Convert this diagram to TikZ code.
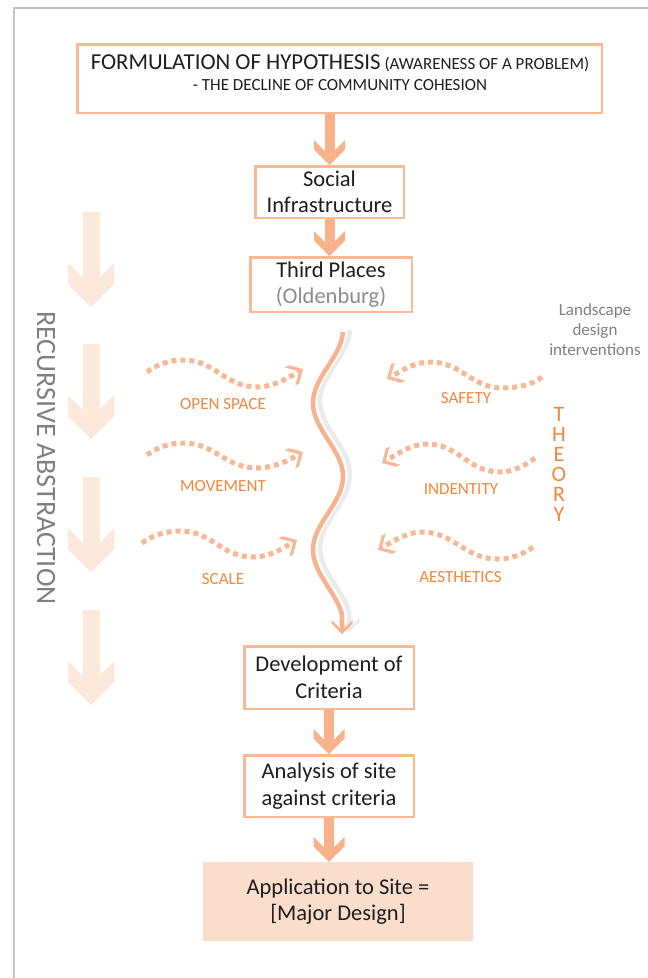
\documentclass[tikz,border=0pt]{standalone}
\usepackage{fontspec}
\setmainfont{Carlito}
\usetikzlibrary{arrows.meta}
\pgfdeclarearrow{
  name = Chevron,
  parameters = {\the\pgfarrowlength,\the\pgfarrowwidth},
  setup code = {
    \pgfarrowssettipend{0pt}
    \pgfarrowssetbackend{-\pgfarrowlength}
    \pgfarrowssetlineend{-.3\pgfarrowlength}
    \pgfarrowssavethe\pgfarrowlength
    \pgfarrowssavethe\pgfarrowwidth
  },
  drawing code = {
    \pgfpathmoveto{\pgfpoint{0pt}{0pt}}
    \pgfpathlineto{\pgfpoint{-.5\pgfarrowwidth}{.5\pgfarrowwidth}}
    \pgfpathlineto{\pgfpoint{-\pgfarrowlength}{.5\pgfarrowwidth}}
    \pgfpathlineto{\pgfpoint{-\pgfarrowlength+.5\pgfarrowwidth}{0pt}}
    \pgfpathlineto{\pgfpoint{-\pgfarrowlength}{-.5\pgfarrowwidth}}
    \pgfpathlineto{\pgfpoint{-.5\pgfarrowwidth}{-.5\pgfarrowwidth}}
    \pgfpathclose
    \pgfusepathqfill
  },
  defaults = {length=25pt, width=31pt}
}
\definecolor{boxc}{HTML}{F8B994}
\definecolor{arrc}{HTML}{F7B28A}
\definecolor{dotc}{HTML}{F9B794}
\definecolor{wavec}{HTML}{F9B38C}
\definecolor{shadc}{HTML}{EBEBEB}
\definecolor{faintc}{HTML}{FDE8DC}
\definecolor{appc}{HTML}{FBDDCB}
\definecolor{txt}{HTML}{1E1E1E}
\definecolor{oldc}{HTML}{8C8C8C}
\definecolor{grayt}{HTML}{7F7F7F}
\definecolor{orng}{HTML}{F4873B}
\definecolor{bordc}{HTML}{C4C4C4}
\tikzset{
  boxtext/.style={font=\fontsize{22.5}{26.5}\selectfont, text=txt, align=center},
  flowbox/.style={draw=boxc, line width=2.5pt, inner sep=0pt, boxtext},
  lbl/.style={font=\fontsize{17}{20}\selectfont, text=orng, anchor=base, inner sep=0pt},
  blockarrow/.style={draw=arrc, line width=10pt, -{Chevron[length=25pt,width=31pt]}},
  faintarrow/.style={draw=faintc, line width=17pt, -{Chevron[length=44pt,width=46pt]}},
  dotarrow/.style={draw=dotc, line width=5pt, dash pattern=on 5pt off 4pt, -{Chevron[length=15pt,width=21pt]}},
}
\begin{document}
\begin{tikzpicture}[x=1pt,y=-1pt]
\useasboundingbox (0,0) rectangle (648,978);
\fill[white] (0,0) rectangle (648,978);
\draw[bordc, line width=1.5pt] (14,978) -- (14,8) -- (648,8);

% faint recursive arrows
\foreach \t in {212,344,477,610} \draw[faintarrow] (91,\t) -- (91,\t+95);
\node[rotate=-90, font=\fontsize{28}{30}\selectfont, text=grayt, inner sep=0pt] (recursive) at (46,458) {RECURSIVE ABSTRACTION};

% boxes
\node[flowbox, minimum width=524.5pt, minimum height=68.5pt] (topbox) at (339.5,78.5) {};
\node[font=\fontsize{17}{21}\selectfont, text=txt, align=center, inner sep=0pt] (toptext) at (340,73)
  {{\fontsize{22.8}{21}\selectfont FORMULATION OF HYPOTHESIS} (AWARENESS OF A PROBLEM)\\- THE DECLINE OF COMMUNITY COHESION};
\node[flowbox, minimum width=148.5pt, minimum height=51.5pt] (social) at (329.5,192) {Social\\Infrastructure};
\node[flowbox, minimum width=161.5pt, minimum height=54.5pt] (third) at (331,284.5) {Third Places\\\textcolor{oldc}{(Oldenburg)}};
\node[flowbox, minimum width=169.5pt, minimum height=62.5pt] (dev) at (329,677.5) {Development of\\Criteria};
\node[flowbox, minimum width=169.5pt, minimum height=61.5pt] (analysis) at (329,786) {Analysis of site\\against criteria};
\node[boxtext, fill=appc, inner sep=0pt, minimum width=270pt, minimum height=79pt] (app) at (338,901.5) {Application to Site =\\{[}Major Design{]}};

% block arrows
\draw[blockarrow] (social.north |- topbox.south) -- (social.north);
\draw[blockarrow] (social.south) -- (social.south |- third.north);
\draw[blockarrow] (dev.south) -- (dev.south |- analysis.north);
\draw[blockarrow] (analysis.south) -- (analysis.south |- app.north);

% wavy line
\begin{scope}[shift={(7,-2)}]
\draw[shadc, line width=4.5pt, -{Chevron[length=14pt,width=21pt]}]
  plot[domain=332:615, samples=80, smooth] ({328-15*cos((\x-403)*2.44898)},\x) -- (342,634);
\end{scope}
\draw[white, line width=7.5pt]
  plot[domain=332:615, samples=80, smooth] ({328-15*cos((\x-403)*2.44898)},\x) -- (342,620);
\draw[wavec, line width=4.5pt, -{Chevron[length=14pt,width=21pt]}]
  plot[domain=332:615, samples=80, smooth] ({328-15*cos((\x-403)*2.44898)},\x) -- (342,634);

% dotted arrows left
\draw[dotarrow] (147,372) .. controls (157,364) and (171,360) .. (183,360) .. controls (215,360) and (225,387) .. (257,387) .. controls (275,387) and (291,376) .. (303,369);
\draw[dotarrow] (147,455) .. controls (157,447) and (171,443) .. (183,443) .. controls (215,443) and (225,468) .. (257,468) .. controls (275,468) and (291,459) .. (303,452);
\draw[dotarrow] (142,543) .. controls (152,535) and (168,531) .. (180,531) .. controls (212,531) and (221,557) .. (253,557) .. controls (271,557) and (285,547) .. (297,540);
% dotted arrows right
\draw[dotarrow] (542,377) .. controls (532,385) and (516,388) .. (503,388) .. controls (471,388) and (462,362) .. (430,362) .. controls (414,362) and (399,372) .. (387,379);
\draw[dotarrow] (535,458) .. controls (525,466) and (512,472) .. (500,472) .. controls (468,472) and (459,444) .. (427,444) .. controls (411,444) and (394,456) .. (382,463);
\draw[dotarrow] (533,547) .. controls (523,555) and (509,559) .. (497,559) .. controls (465,559) and (454,532) .. (422,532) .. controls (406,532) and (390,543) .. (378,550);

% labels
\node[lbl] (openspace) at (223,409) {OPEN SPACE};
\node[lbl] (movement) at (223,491) {MOVEMENT};
\node[lbl] (scale) at (223,584) {SCALE};
\node[lbl] (safety) at (466,403) {SAFETY};
\node[lbl] (identity) at (461,494) {INDENTITY};
\node[lbl] (aesthetics) at (460.5,582) {AESTHETICS};
\node[font=\fontsize{22}{20}\selectfont, text=orng, align=center, inner sep=0pt] (theory) at (559,464) {T\\H\\E\\O\\R\\Y};
\node[font=\fontsize{17}{20}\selectfont, text=grayt, align=center, inner sep=0pt] (landscape) at (595,330) {Landscape\\design\\interventions};
\end{tikzpicture}
\end{document}
